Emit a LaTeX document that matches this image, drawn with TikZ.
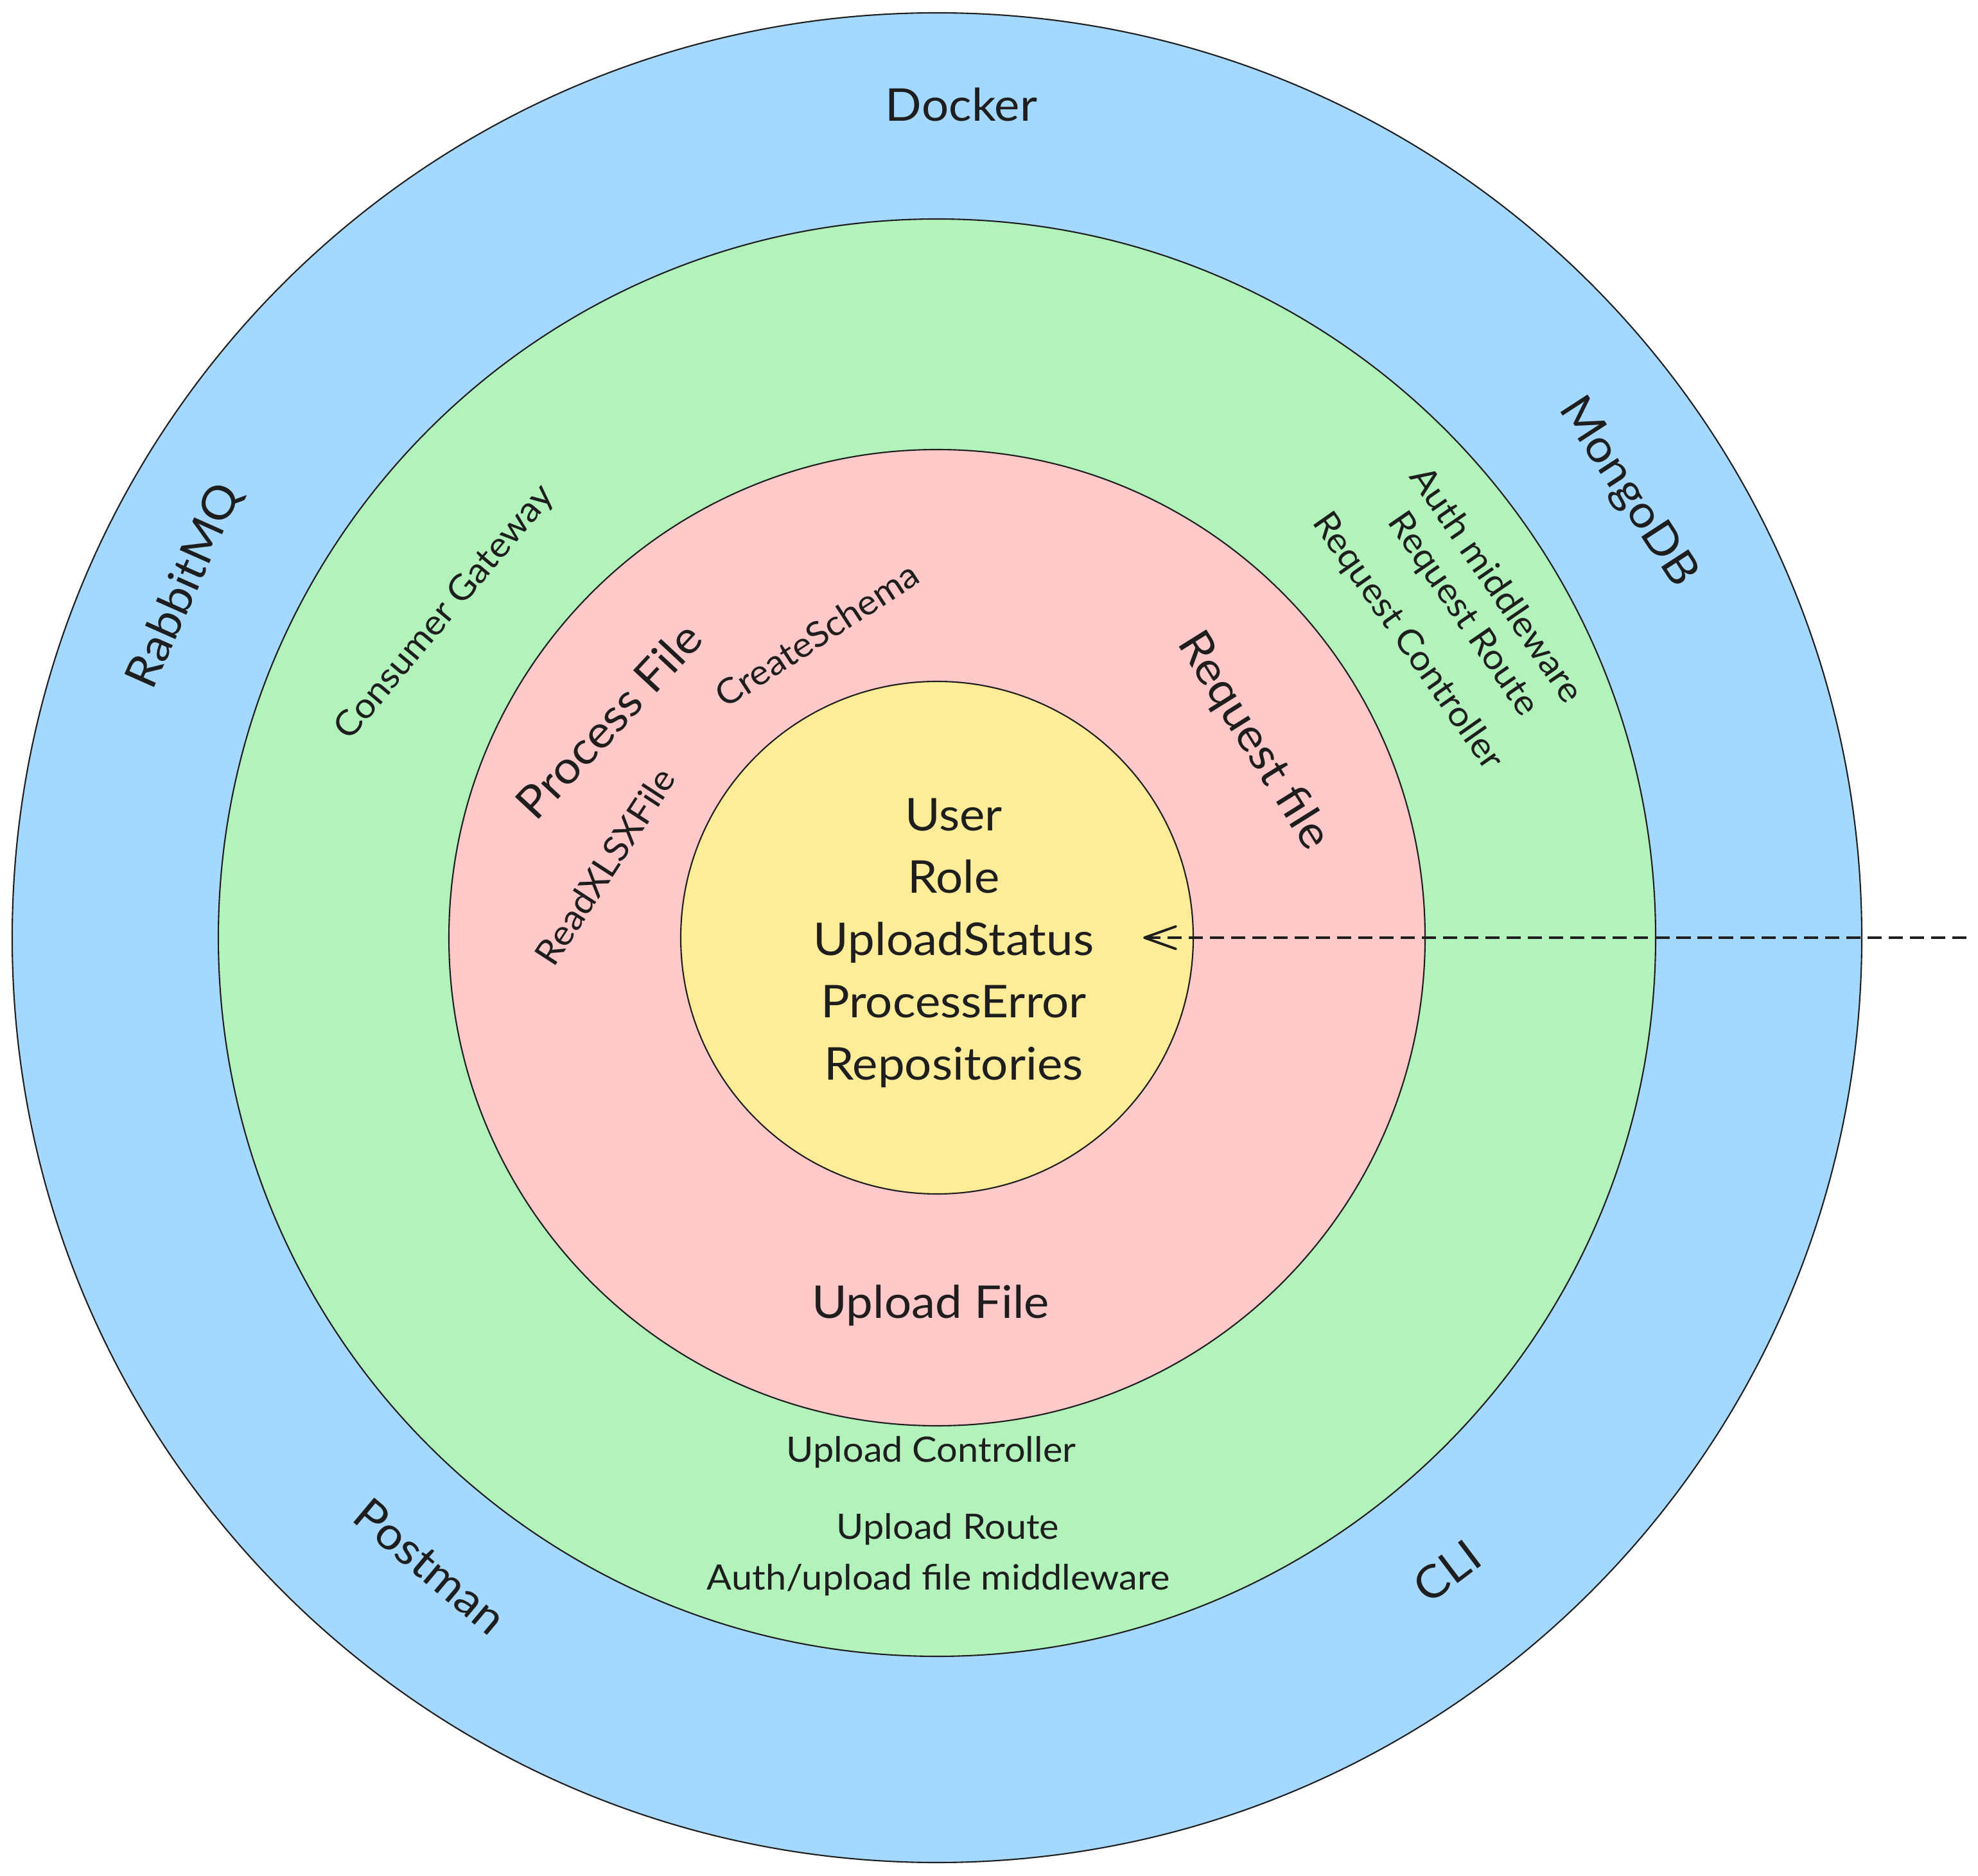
\documentclass[tikz,border=0pt]{standalone}
\usepackage{fontspec}
\setmainfont{Lato}[FakeStretch=1.06]
\usetikzlibrary{arrows.meta}
\usetikzlibrary{positioning}
\definecolor{ink}{HTML}{1E1E1E}
\definecolor{infra fill}{HTML}{A5D8FF}
\definecolor{adapter fill}{HTML}{B2F2BB}
\definecolor{usecase fill}{HTML}{FFC9C9}
\definecolor{domain fill}{HTML}{FFEC99}
\tikzset{
    % One layer of the onion, drawn as a plain circle
    ring/.style={
        circle, draw=ink, line width=0.6pt, inner sep=0,
        minimum size=#1},
%
    % Layer names and the larger items
    big label/.style={text=ink, inner sep=0,
        font=\fontsize{20}{27.6}\selectfont},
    % The smaller items inside a layer
    small label/.style={text=ink, inner sep=0,
        font=\fontsize{15.5}{19}\selectfont},
%
    % Dashed dependency pointing inwards
    depends/.style={
        draw=ink, line width=1.1pt, dash pattern=on 6.3pt off 3.1pt,
        -{Straight Barb[length=4.9mm, width=3.5mm, round]}}}

\begin{document}
\begin{tikzpicture}

% Page size of the exported drawing
\useasboundingbox (0,0) rectangle (30.8,29.2);

\coordinate (centre) at (14.59,14.60);

% Layers, outside in

\node [ring=28.80cm, fill=infra fill] (infra) at (centre) {};
\node [ring=22.38cm, fill=adapter fill] (adapters) at (centre) {};
\node [ring=15.20cm, fill=usecase fill] (usecases) at (centre) {};
\node [ring=7.98cm, fill=domain fill] (core) at (centre) {};

% Domain

\node [big label, align=center] (entities) at (14.85,14.52)
    {User\\Role\\UploadStatus\\ProcessError\\Repositories};

% Use cases

\node [big label, rotate=47] (process) at (9.48,17.98) {Process File};
\node [small label, rotate=33] (schema) at (12.72,19.32) {CreateSchema};
\node [small label, rotate=57] (readxlsx) at (9.42,15.71) {ReadXLSXFile};
\node [big label, rotate=-58] (request) at (19.51,17.66) {Request file};
\node [big label, anchor=base] (upload) at (14.49,8.68) {Upload File};

% Adapters

\node [small label, rotate=50] (consumer) at (6.93,19.66) {Consumer Gateway};
\node [small label, rotate=-55.5] (authmw) at (23.32,20.11) {Auth middleware};
\node [small label, rotate=-55.5] (reqroute) at (22.77,19.63) {Request Route};
\node [small label, rotate=-55] (reqctrl) at (21.91,19.21) {Request Controller};
\node [small label, anchor=base] (upctrl) at (14.50,6.44) {Upload Controller};
\node [small label, anchor=base] (uproute) at (14.76,5.24) {Upload Route};
\node [small label, anchor=base] (upmw) at (14.61,4.45)
    {Auth/upload file middleware};

% Infrastructure

\node [big label, anchor=base] (docker) at (14.97,27.31) {Docker};
\node [big label, rotate=-57] (mongo) at (25.34,21.53) {MongoDB};
\node [big label, rotate=66] (rabbit) at (2.88,20.07) {RabbitMQ};
\node [big label, rotate=-40] (postman) at (6.70,4.81) {Postman};
\node [big label, rotate=37] (cli) at (22.53,4.73) {CLI};

% Dependency from outside, tip reaching into the core

\coordinate (caller) at (30.62,14.60);
\draw [depends, shorten >=-7.9mm] (caller) -- (core);

\end{tikzpicture}
\end{document}
